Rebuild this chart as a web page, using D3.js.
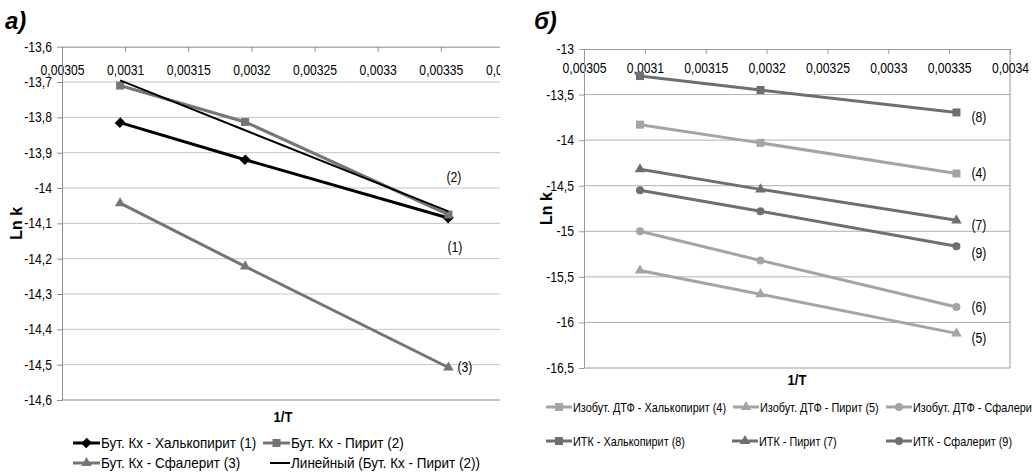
<!DOCTYPE html>
<html>
<head>
<meta charset="utf-8">
<script src="https://cdn.jsdelivr.net/npm/d3@7"></script>
<style>
body { margin: 0; background: #fff; }
text { font-family: "Liberation Sans", Arial, sans-serif; fill: #000; }
</style>
</head>
<body>
<script>
var width = 1032, height = 473
var SX = 0.87 // the original text is squeezed sideways

// shared x values (1/T)
var invT = [0.003096, 0.003195, 0.003356]
var xTicks = [0.00305, 0.0031, 0.00315, 0.0032, 0.00325, 0.0033, 0.00335, 0.0034]

// panel a) - butyl xanthate
var yTicksA = [-13.6, -13.7, -13.8, -13.9, -14, -14.1, -14.2, -14.3, -14.4, -14.5, -14.6]
var butChalco = [-13.815, -13.92, -14.085]
var butPyrite = [-13.71, -13.813, -14.075]
var butSphal = [-14.043, -14.222, -14.508]
var namesA = ["Бут. Кх - Халькопирит (1)", "Бут. Кх - Пирит (2)", "Бут. Кх - Сфалерит (3)", "Линейный (Бут. Кх - Пирит (2))"]
var tagsA = ["(1)", "(2)", "(3)"]

// panel б) - isobutyl DTP and ITK
var yTicksB = [-13, -13.5, -14, -14.5, -15, -15.5, -16, -16.5]
var dtfChalco = [-13.83, -14.03, -14.366]
var dtfPyrite = [-15.43, -15.69, -16.12]
var dtfSphal = [-15.0, -15.32, -15.83]
var itkChalco = [-13.297, -13.45, -13.696]
var itkPyrite = [-14.32, -14.54, -14.88]
var itkSphal = [-14.55, -14.78, -15.165]
var namesB = ["Изобут. ДТФ - Халькопирит (4)", "Изобут. ДТФ - Пирит (5)", "Изобут. ДТФ - Сфалерит (6)",
              "ИТК - Халькопирит (8)", "ИТК - Пирит (7)", "ИТК - Сфалерит (9)"]
var tagsB = ["(4)", "(5)", "(6)", "(8)", "(7)", "(9)"]

var BLACK = "#000", GREY = "#757575", LIGHT = "#a4a4a4", DARK = "#6f6f6f"

var svg = d3.select("body")
.append("svg")
.attr("width", width)
.attr("height", height)

var defs = svg.append("defs")
defs.append("clipPath").attr("id", "clipA")
	.append("rect").attr("x", 0).attr("y", 0).attr("width", 500).attr("height", height)

function fmt(v) { return String(v).replace(".", ",") }

function txt(g, x, y, s, anchor, size, weight, sx) {
	return g.append("text")
	.attr("transform", "translate(" + x + "," + y + ") scale(" + (sx || SX) + ",1)")
	.attr("text-anchor", anchor || "start")
	.attr("font-size", size || 14)
	.attr("font-weight", weight || "normal")
	.text(s)
}

function marker(g, type, x, y, color) {
	var sizes = { diamond: 52, square: 64, triangle: 48, circle: 50 }
	var types = { diamond: d3.symbolSquare, square: d3.symbolSquare, triangle: d3.symbolTriangle, circle: d3.symbolCircle }
	g.append("path")
	.attr("d", d3.symbol().type(types[type]).size(sizes[type])())
	.attr("transform", "translate(" + x + "," + y + ")" + (type == "diamond" ? " rotate(45) scale(1,1.1)" : ""))
	.attr("fill", color)
}

// least squares line, used for the excel "linear" trend
function trend(xs, ys) {
	var mx = d3.mean(xs), my = d3.mean(ys)
	var sxy = d3.sum(xs, function(x, i) { return (x - mx) * (ys[i] - my) })
	var sxx = d3.sum(xs, function(x) { return (x - mx) * (x - mx) })
	var k = sxy / sxx
	return function(x) { return my + k * (x - mx) }
}

function panel(p) {
	var g = svg.append("g")
	if (p.clip) g.attr("clip-path", "url(#" + p.clip + ")")

	var x = d3.scaleLinear().domain([0.00305, 0.0034]).range(p.xr)
	var y = d3.scaleLinear().domain(d3.extent(p.yTicks).reverse()).range(p.yr)

	// horizontal grid
	g.selectAll(".grid")
	.data(p.yTicks.slice(1))
	.enter()
	.append("line")
	.attr("x1", p.xr[0]).attr("x2", p.xr[1])
	.attr("y1", function(d) { return y(d) }).attr("y2", function(d) { return y(d) })
	.attr("stroke", function(d, i) { return i == p.yTicks.length - 2 ? p.axisColor : p.gridColor })
	.attr("stroke-width", 1)

	if (p.rightBorder) {
		g.append("line")
		.attr("x1", p.xr[1]).attr("x2", p.xr[1]).attr("y1", p.yr[0]).attr("y2", p.yr[1])
		.attr("stroke", p.axisColor)
	}

	// x axis sits on top, ticks and labels below it
	var xa = g.append("g")
	.attr("transform", "translate(0," + p.yr[0] + ")")
	.call(d3.axisBottom(x).tickValues(xTicks).tickFormat(fmt).tickSizeInner(5).tickSizeOuter(0).tickPadding(p.xPad))
	xa.select(".domain").attr("stroke", p.axisColor)
	xa.selectAll("line").attr("stroke", p.axisColor)
	xa.selectAll("text").attr("font-size", 14).attr("font-family", null).attr("transform", "scale(" + SX + ",1)")

	var ya = g.append("g")
	.attr("transform", "translate(" + p.xr[0] + ",0)")
	.call(d3.axisLeft(y).tickValues(p.yTicks).tickFormat(fmt).tickSizeInner(5).tickSizeOuter(0).tickPadding(5))
	ya.select(".domain").attr("stroke", p.axisColor)
	ya.selectAll("line").attr("stroke", p.axisColor)
	ya.selectAll("text").attr("font-size", 14).attr("font-family", null)
	.attr("x", -10 / SX).attr("transform", "scale(" + SX + ",1)")

	var line = d3.line()
	.x(function(d, i) { return x(invT[i]) })
	.y(function(d) { return y(d) })

	p.series.forEach(function(s) {
		g.append("path")
		.attr("d", line(s.values))
		.attr("fill", "none")
		.attr("stroke", s.color)
		.attr("stroke-width", 3)
		s.values.forEach(function(v, i) { marker(g, s.marker, x(invT[i]), y(v), s.color) })
		if (s.tag) txt(g, x(invT[2]) + s.tagDx, y(s.values[2]) + s.tagDy, s.tag, "start", 14)
	})

	if (p.trendOf) {
		var f = trend(invT, p.trendOf)
		g.append("line")
		.attr("x1", x(invT[0])).attr("y1", y(f(invT[0])))
		.attr("x2", x(invT[2])).attr("y2", y(f(invT[2])))
		.attr("stroke", BLACK).attr("stroke-width", 2)
	}

	// axis titles
	var yc = (p.yr[0] + p.yr[1]) / 2
	g.append("text")
	.attr("transform", "translate(" + p.yTitleX + "," + yc + ") rotate(-90)")
	.attr("text-anchor", "middle").attr("font-size", 16).attr("font-weight", "bold")
	.text("Ln k")
	txt(g, (p.xr[0] + p.xr[1]) / 2, p.xTitleY, "1/T", "middle", 15, "bold")

	// legend
	p.legend.forEach(function(l) {
		g.append("line")
		.attr("x1", l.x).attr("x2", l.x + l.len).attr("y1", l.y).attr("y2", l.y)
		.attr("stroke", l.s.color).attr("stroke-width", l.s.marker ? 3 : 2)
		if (l.s.marker) marker(g, l.s.marker, l.x + l.len / 2, l.y, l.s.color)
		txt(g, l.x + l.len + 1, l.y + 5, l.s.name, "start", p.legendSize, "normal", p.legendSX)
	})
}

// panel a)
var seriesA = [
	{ name: namesA[0], values: butChalco, color: BLACK, marker: "diamond", tag: tagsA[0], tagDx: -1, tagDy: 34 },
	{ name: namesA[1], values: butPyrite, color: GREY, marker: "square", tag: tagsA[1], tagDx: -2, tagDy: -33 },
	{ name: namesA[2], values: butSphal, color: GREY, marker: "triangle", tag: tagsA[2], tagDx: 9, tagDy: 5 }
]
var trendA = { name: namesA[3], color: BLACK }

svg.append("text").attr("x", 5).attr("y", 29)
.attr("font-size", 24).attr("font-weight", "bold").attr("font-style", "italic").text("а)")

panel({
	clip: "clipA",
	xr: [62, 504], yr: [46.7, 400], yTicks: yTicksA,
	gridColor: "#c4c4c4", axisColor: "#8c8c8c", xPad: 13,
	series: seriesA, trendOf: butPyrite,
	yTitleX: 22, xTitleY: 422,
	legendSize: 15, legendSX: 0.9,
	legend: [
		{ s: seriesA[0], x: 73, y: 443, len: 27 },
		{ s: seriesA[1], x: 263, y: 443, len: 27 },
		{ s: seriesA[2], x: 73, y: 463, len: 27 },
		{ s: trendA, x: 270, y: 463, len: 20 }
	]
})

// panel б)
var seriesB = [
	{ name: namesB[0], values: dtfChalco, color: LIGHT, marker: "square", tag: tagsB[0], tagDx: 15, tagDy: 4 },
	{ name: namesB[1], values: dtfPyrite, color: LIGHT, marker: "triangle", tag: tagsB[1], tagDx: 15, tagDy: 10 },
	{ name: namesB[2], values: dtfSphal, color: LIGHT, marker: "circle", tag: tagsB[2], tagDx: 15, tagDy: 5 },
	{ name: namesB[3], values: itkChalco, color: DARK, marker: "square", tag: tagsB[3], tagDx: 15, tagDy: 10 },
	{ name: namesB[4], values: itkPyrite, color: DARK, marker: "triangle", tag: tagsB[4], tagDx: 15, tagDy: 10 },
	{ name: namesB[5], values: itkSphal, color: DARK, marker: "circle", tag: tagsB[5], tagDx: 15, tagDy: 12 }
]

svg.append("text").attr("x", 534).attr("y", 29)
.attr("font-size", 24).attr("font-weight", "bold").attr("font-style", "italic").text("б)")

panel({
	xr: [584, 1010], yr: [49, 368], yTicks: yTicksB,
	gridColor: "#b0b0b0", axisColor: "#9a9a9a", xPad: 9, rightBorder: true,
	series: seriesB,
	yTitleX: 552, xTitleY: 385,
	legendSize: 12.5, legendSX: 0.87,
	legend: [
		{ s: seriesB[0], x: 546, y: 407, len: 26 },
		{ s: seriesB[1], x: 733, y: 407, len: 26 },
		{ s: seriesB[2], x: 886, y: 407, len: 26 },
		{ s: seriesB[3], x: 546, y: 441, len: 26 },
		{ s: seriesB[4], x: 732, y: 441, len: 26 },
		{ s: seriesB[5], x: 886, y: 441, len: 26 }
	]
})
</script>
</body>
</html>
